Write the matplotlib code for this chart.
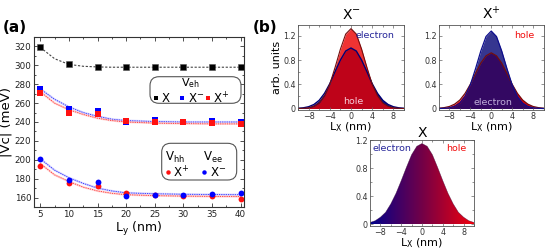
import numpy as np
import matplotlib
matplotlib.use("Agg")
import matplotlib.pyplot as plt
from matplotlib.patches import FancyBboxPatch
from matplotlib.lines import Line2D
from matplotlib.transforms import IdentityTransform
from matplotlib.colors import LinearSegmentedColormap
from matplotlib.ticker import MultipleLocator

plt.rcParams['font.family'] = ['DejaVu Sans']
plt.rcParams['mathtext.fontset'] = 'dejavusans'

# ---------------- data: panel (a) ----------------
Ly = [5, 10, 15, 20, 25, 30, 35, 40]
veh_X = [319, 301, 298, 298, 298, 298, 298, 298]
veh_Xm = [275, 254, 252, 240, 242, 240, 241, 240]
veh_Xp = [271, 250, 248, 241, 240, 240, 239, 238]
vhh_Xp = [193, 175, 172, 165, 163, 162, 162, 158]
vee_Xm = [201, 179, 176, 162, 163, 163, 164, 165]

# fitted curves
Ly_fit = [5, 7.5, 10, 12.5, 15, 17.5, 20, 25, 30, 35, 40]
fit_X = [319, 307, 301, 299, 298.3, 298, 298, 298, 298, 298, 298]
fit_veh_Xm = [275, 264, 256, 250, 246, 243, 241.5, 240.5, 240, 240, 240]
fit_veh_Xp = [272, 260, 253, 248, 244, 241.5, 240, 238.8, 238.3, 238, 238]
fit_vee_Xm = [201, 189, 181, 175, 170, 167, 165, 164, 163.5, 163.2, 163]
fit_vhh_Xp = [196, 184, 177, 171, 167, 164.5, 163, 162, 161.5, 161.2, 161]

# ---------------- data: panel (b) ----------------
Lx = [-10, -9, -8, -7, -6, -5, -4, -3, -2, -1, 0, 1, 2, 3, 4, 5, 6, 7, 8, 9, 10]
xm_electron = [0.004, 0.011, 0.029, 0.066, 0.135, 0.25, 0.41, 0.61, 0.80, 0.95, 1.00,
               0.95, 0.80, 0.61, 0.41, 0.25, 0.135, 0.066, 0.029, 0.011, 0.004]
xm_hole = [0.0, 0.003, 0.012, 0.036, 0.09, 0.21, 0.40, 0.68, 0.98, 1.23, 1.32,
           1.23, 0.98, 0.68, 0.40, 0.21, 0.09, 0.036, 0.012, 0.003, 0.0]
xp_electron = [0.0, 0.003, 0.011, 0.035, 0.09, 0.20, 0.39, 0.66, 0.95, 1.19, 1.28,
               1.19, 0.95, 0.66, 0.39, 0.20, 0.09, 0.035, 0.011, 0.003, 0.0]
xp_hole = [0.005, 0.014, 0.033, 0.072, 0.14, 0.25, 0.40, 0.58, 0.75, 0.87, 0.92,
           0.87, 0.75, 0.58, 0.40, 0.25, 0.14, 0.072, 0.033, 0.014, 0.005]
x_exciton = [0.025, 0.05, 0.10, 0.17, 0.29, 0.44, 0.62, 0.81, 0.99, 1.11, 1.15,
             1.11, 0.99, 0.81, 0.62, 0.44, 0.29, 0.17, 0.10, 0.05, 0.025]

W, H = 550, 250
fig = plt.figure(figsize=(W / 100, H / 100), dpi=100)


def rect(l, r, t, b):
    return [l / W, 1 - b / H, (r - l) / W, (b - t) / H]


def fx(x, y):
    return (x / W, 1 - y / H)


TICK_C = '#333333'

# ---------------- panel (a) ----------------
ax = fig.add_axes(rect(34, 244, 37, 207))
ax.plot(Ly_fit, fit_X, color='#444444', lw=0.8, ls=(0, (2, 1.5)))
for fy, c, cb in [(fit_veh_Xm, '#2a2aff', '#a8a8ff'), (fit_veh_Xp, '#ff3030', '#ffa8a8'),
                  (fit_vee_Xm, '#2a2aff', '#a8a8ff'), (fit_vhh_Xp, '#ff3030', '#ffa8a8')]:
    ax.plot(Ly_fit, fy, color=cb, lw=1.6, alpha=0.45, solid_capstyle='round')
    ax.plot(Ly_fit, fy, color=c, lw=0.6, ls=(0, (1.5, 1.2)))
ax.plot(Ly, veh_X, 's', color='black', ms=4.2, mec='#555555', mew=0.4)
ax.plot(Ly, veh_Xm, 's', color='#0000ff', ms=4.2, mew=0)
ax.plot(Ly, veh_Xp, 's', color='#ff1010', ms=4.2, mew=0)
ax.plot(Ly, vhh_Xp, 'o', color='#ff1010', ms=4.2, mew=0)
ax.plot(Ly, vee_Xm, 'o', color='#0000ff', ms=4.2, mew=0)
ax.set_xlim(3.9, 40.6)
ax.set_ylim(150, 330)
ax.set_xticks(Ly)
ax.set_yticks(np.arange(160, 321, 20))
ax.xaxis.set_minor_locator(MultipleLocator(2.5))
ax.yaxis.set_minor_locator(MultipleLocator(10))
ax.tick_params(which='both', direction='in', top=True, right=True, colors=TICK_C,
               labelsize=6.3, labelcolor='#222222', width=0.6)
ax.tick_params(which='major', length=3, pad=2)
ax.tick_params(which='minor', length=1.6)
for s in ax.spines.values():
    s.set_linewidth(0.8)
    s.set_color('#333333')
ax.set_xlabel(r'L$_\mathrm{y}$ (nm)', fontsize=9, labelpad=1)
ax.set_ylabel('|Vc| (meV)', fontsize=9.5, labelpad=1)

fig.text(*fx(3, 27), '(a)', fontsize=11, fontweight='bold', va='center', ha='left')
fig.text(*fx(253, 27), '(b)', fontsize=11, fontweight='bold', va='center', ha='left')

# legend boxes (pixel layout)
idt = IdentityTransform()
box1 = FancyBboxPatch((150, H - 103.3), 91, 26.6, boxstyle='round,pad=0,rounding_size=9',
                      transform=idt, fc='white', ec='#555555', lw=0.8)
box2 = FancyBboxPatch((161.7, H - 180), 75, 36.7, boxstyle='round,pad=0,rounding_size=9',
                      transform=idt, fc='white', ec='#555555', lw=0.8)
fig.add_artist(box1)
fig.add_artist(box2)
fig.text(*fx(190, 83), r'V$_\mathrm{eh}$', fontsize=8, ha='center', va='center')
for (px, py, m, c) in [(155.7, 98.3, 's', 'black'), (182.3, 98.3, 's', '#0000ff'),
                       (207.7, 98.3, 's', '#ff1010'), (167.7, 172.3, 'o', '#ff1010'),
                       (204.3, 172.3, 'o', '#0000ff')]:
    fig.add_artist(Line2D([px / W], [1 - py / H], marker=m, color=c, ms=3.2, mew=0,
                          transform=fig.transFigure))
fig.text(*fx(161.5, 98.5), 'X', fontsize=8.5, ha='left', va='center')
fig.text(*fx(187.5, 98.5), 'X$^{-}$', fontsize=8.5, ha='left', va='center')
fig.text(*fx(213, 98.5), 'X$^{+}$', fontsize=8.5, ha='left', va='center')
fig.text(*fx(175, 157), r'V$_\mathrm{hh}$', fontsize=8.5, ha='center', va='center')
fig.text(*fx(213, 157), r'V$_\mathrm{ee}$', fontsize=8.5, ha='center', va='center')
fig.text(*fx(173, 172.5), 'X$^{+}$', fontsize=8.5, ha='left', va='center')
fig.text(*fx(209.5, 172.5), 'X$^{-}$', fontsize=8.5, ha='left', va='center')

# ---------------- panel (b) ----------------
NAVY = (0.06, 0.06, 0.50)
RED = (0.92, 0.0, 0.0)


def style_b(a, ylim_top):
    a.set_xlim(-10, 10)
    a.set_ylim(-0.025, ylim_top)
    a.set_xticks([-8, -4, 0, 4, 8])
    a.set_yticks([0, 0.4, 0.8, 1.2])
    a.set_yticklabels(['0', '0.4', '0.8', '1.2'])
    a.xaxis.set_minor_locator(MultipleLocator(2))
    a.yaxis.set_minor_locator(MultipleLocator(0.2))
    a.tick_params(which='both', direction='in', top=True, right=True, colors='#666666',
                  labelsize=5.8, labelcolor='#333333', width=0.5)
    a.tick_params(which='major', length=2.5, pad=1.5)
    a.tick_params(which='minor', length=1.3)
    for s in a.spines.values():
        s.set_linewidth(0.6)
        s.set_color('#555555')
    a.set_xlabel(r'L$_\mathrm{X}$ (nm)', fontsize=8, labelpad=-0.5)


# X-
a1 = fig.add_axes(rect(298, 404, 25, 110))
a1.fill_between(Lx, 0, xm_electron, color=NAVY, lw=0)
a1.plot(Lx, xm_electron, color=(0.0, 0.0, 0.45), lw=1.0)
a1.fill_between(Lx, 0, xm_hole, color=RED, alpha=0.8, lw=0)
a1.plot(Lx, xm_hole, color=(0.45, 0.05, 0.05), lw=0.8)
style_b(a1, 1.38)
a1.set_ylabel('arb. units', fontsize=8, labelpad=1)
a1.set_title('X$^{-}$', fontsize=10, pad=4)
a1.text(8.2, 1.2, 'electron', color=(0.15, 0.15, 0.6), fontsize=6.8, ha='right', va='center')
a1.text(0.4, 0.11, 'hole', color=(0.97, 0.8, 0.85), fontsize=6.8, ha='center', va='center')

# X+
a2 = fig.add_axes(rect(439, 543.5, 25, 110))
a2.fill_between(Lx, 0, xp_hole, color=RED, lw=0)
a2.plot(Lx, xp_hole, color=(0.45, 0.05, 0.05), lw=0.9)
a2.fill_between(Lx, 0, xp_electron, color=(0.04, 0.04, 0.47), alpha=0.82, lw=0)
a2.plot(Lx, xp_electron, color=(0.05, 0.05, 0.55), lw=0.9)
style_b(a2, 1.38)
a2.set_title('X$^{+}$', fontsize=10, pad=4)
a2.text(8.3, 1.2, 'hole', color=(0.95, 0.05, 0.05), fontsize=6.8, ha='right', va='center')
a2.text(0.3, 0.1, 'electron', color=(0.75, 0.68, 0.85), fontsize=6.8, ha='center', va='center')

# X
a3 = fig.add_axes(rect(370, 474, 140, 226))
poly = a3.fill_between(Lx, 0, x_exciton, color='none', lw=0)
cmap = LinearSegmentedColormap.from_list('eh', [(0.0, 0.0, 0.55), (0.45, 0.0, 0.28),
                                                (0.95, 0.0, 0.05)])
grad = np.linspace(0, 1, 256).reshape(1, -1)
im = a3.imshow(grad, extent=[-10, 10, 0, 1.2], aspect='auto', cmap=cmap, origin='lower',
               zorder=1)
im.set_clip_path(poly.get_paths()[0], transform=a3.transData)
a3.plot(Lx, x_exciton, color=(0.2, 0.0, 0.2), lw=0.4, alpha=0.6)
style_b(a3, 1.2)
a3.set_title('X', fontsize=10, pad=1)
a3.text(-9.6, 1.08, 'electron', color=(0.15, 0.15, 0.6), fontsize=6.8, ha='left', va='center')
a3.text(8.6, 1.08, 'hole', color=(0.95, 0.05, 0.05), fontsize=6.8, ha='right', va='center')

fig.savefig('out.png', dpi=100)
